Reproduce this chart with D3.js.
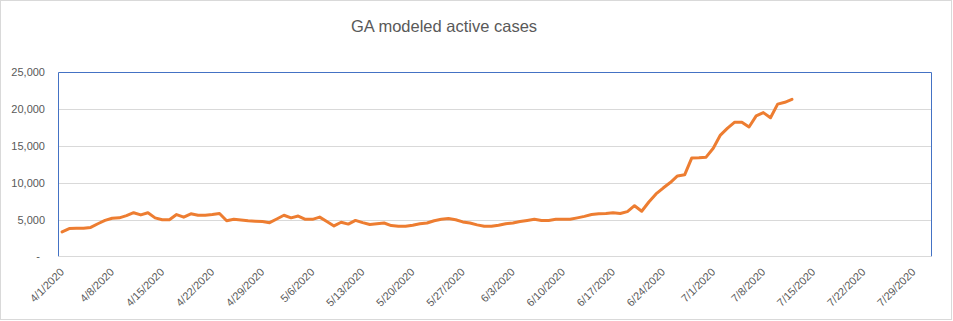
<!DOCTYPE html>
<html>
<head>
<meta charset="utf-8">
<script src="https://cdn.jsdelivr.net/npm/d3@7/dist/d3.min.js"></script>
<style>
  html, body { margin: 0; padding: 0; background: #fff; }
  svg { display: block; }
  text { font-family: "Liberation Sans", Arial, sans-serif; fill: #595959; }
</style>
</head>
<body>
<svg id="chart" width="953" height="321"></svg>
<script>
// ---- data ----
const title = "GA modeled active cases";
const startDate = "2020-04-01";   // first day of the series
const axisStart = "2020-04-01";
const axisEnd = "2020-08-01";
const activeCases = [
  3350, 3800, 3850, 3850, 3950, 4450, 4900, 5200, 5250, 5550,
  5950, 5650, 5950, 5250, 5000, 5000, 5700, 5350, 5800, 5600,
  5600, 5700, 5850, 4850, 5050, 4950, 4850, 4800, 4750, 4600,
  5100, 5600, 5250, 5500, 5050, 5050, 5350, 4750, 4150, 4650,
  4400, 4900, 4600, 4350, 4450, 4550, 4200, 4100, 4100, 4250,
  4450, 4550, 4850, 5050, 5150, 5000, 4700, 4550, 4300, 4100,
  4100, 4250, 4450, 4550, 4750, 4900, 5050, 4900, 4900, 5050,
  5050, 5050, 5250, 5450, 5700, 5800, 5850, 5950, 5850, 6100,
  6900, 6150, 7400, 8500, 9300, 10050, 10950, 11100, 13400, 13420,
  13500, 14700, 16500, 17450, 18250, 18250, 17600, 19100, 19550, 18850,
  20700, 20950, 21350
];
const xTickLabels = ["4/1/2020","4/8/2020","4/15/2020","4/22/2020","4/29/2020","5/6/2020",
  "5/13/2020","5/20/2020","5/27/2020","6/3/2020","6/10/2020","6/17/2020","6/24/2020",
  "7/1/2020","7/8/2020","7/15/2020","7/22/2020","7/29/2020"];
const yTicks = [0, 5000, 10000, 15000, 20000, 25000];

// ---- layout ----
const svg = d3.select("#chart");
const W = 953, H = 321;
const plot = { left: 58.5, right: 931.5, top: 72.5, bottom: 256.5 };

const parse = d3.timeParse("%Y-%m-%d");
const parseLabel = d3.timeParse("%m/%d/%Y");
const start = parse(startDate);
const dates = activeCases.map((_, i) => d3.timeDay.offset(start, i));

const x = d3.scaleTime()
  .domain([parse(axisStart), parse(axisEnd)])
  .range([plot.left, plot.right]);
const mid = d => d3.timeHour.offset(d, 12);

const y = d3.scaleLinear().domain([0, 25000]).range([plot.bottom, plot.top]);

// chart outer border
svg.append("rect")
  .attr("x", 0.5).attr("y", 0.5).attr("width", W - 2).attr("height", H - 2)
  .attr("fill", "#fff").attr("stroke", "#d9d9d9");

// title
svg.append("text")
  .attr("x", 444).attr("y", 32)
  .attr("text-anchor", "middle")
  .style("font-size", "16.5px")
  .text(title);

// gridlines
svg.append("g")
  .selectAll("line")
  .data(yTicks.filter(v => v > 0 && v < 25000))
  .join("line")
  .attr("x1", plot.left).attr("x2", plot.right)
  .attr("y1", d => Math.round(y(d)) + 0.5).attr("y2", d => Math.round(y(d)) + 0.5)
  .attr("stroke", "#d9d9d9").attr("stroke-width", 1);

// y labels
const fmt = d3.format(",");
svg.append("g")
  .selectAll("text")
  .data(yTicks)
  .join("text")
  .attr("x", d => d === 0 ? 40 : 45)
  .attr("y", d => y(d))
  .attr("dy", "0.35em")
  .attr("text-anchor", "end")
  .style("font-size", "11px")
  .text(d => d === 0 ? "-" : fmt(d));

// plot border (blue) top, left, right
svg.append("path")
  .attr("d", `M${plot.left},${plot.bottom}V${plot.top}H${plot.right}V${plot.bottom}`)
  .attr("fill", "none").attr("stroke", "#4472c4").attr("stroke-width", 1);

// horizontal axis line
svg.append("line")
  .attr("x1", plot.left).attr("x2", plot.right)
  .attr("y1", plot.bottom).attr("y2", plot.bottom)
  .attr("stroke", "#d9d9d9");

// x labels
svg.append("g")
  .selectAll("text")
  .data(xTickLabels)
  .join("text")
  .attr("transform", d => `translate(${x(mid(parseLabel(d))) + 0},${270}) rotate(-45)`)
  .attr("text-anchor", "end")
  .attr("dy", "0.35em")
  .style("font-size", "11px")
  .text(d => d);

// line
const line = d3.line()
  .x((d, i) => x(mid(dates[i])))
  .y(d => y(d));
svg.append("path")
  .datum(activeCases)
  .attr("d", line)
  .attr("fill", "none")
  .attr("stroke", "#ed7d31")
  .attr("stroke-width", 3)
  .attr("stroke-linejoin", "round")
  .attr("stroke-linecap", "round");
</script>
</body>
</html>
